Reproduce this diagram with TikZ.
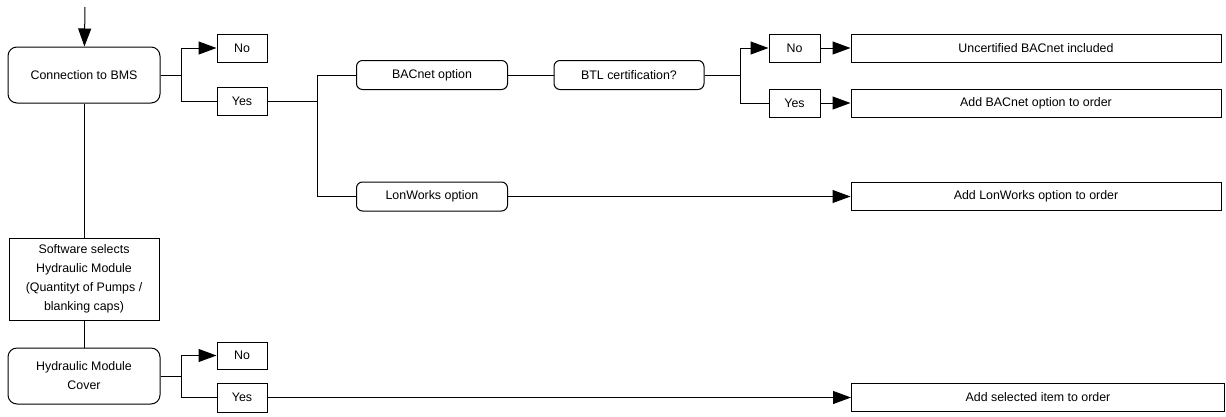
\documentclass[tikz,border=0pt]{standalone}
\usepackage{fontspec}
\setmainfont{Liberation Sans}
\usepackage{tikz}
\usetikzlibrary{arrows.meta,positioning}
\tikzset{
  rbox/.style={draw=black,rounded corners=9pt,line width=1pt,inner sep=0pt,align=center},   % decision
  obox/.style={draw=black,rounded corners=6pt,line width=1pt,inner sep=0pt,minimum width=151pt,minimum height=29pt},
  sbox/.style={draw=black,line width=1pt,inner sep=0pt,align=center},                      % plain step
  ans/.style={sbox,minimum width=50pt,minimum height=28pt},
  res/.style={sbox,minimum width=370pt,minimum height=28pt},
  link/.style={line width=1pt},
  arr/.style={line width=1pt,-{Triangle[length=18pt,width=13pt]}},
}
\begin{document}
\begin{tikzpicture}[x=1pt,y=-1pt,font=\fontsize{12.4}{19}\selectfont]
  \useasboundingbox (0,0) rectangle (1226,416);
  % left column
  \coordinate (start) at (85,7);
  \node[rbox,minimum width=152pt,minimum height=56pt] (bms) at (84,75) {Connection to BMS};
  \node[sbox,minimum width=150pt,minimum height=82pt] (soft) at (84,279)
    {Software selects\\Hydraulic Module\\(Quantityt of Pumps /\\blanking caps)};
  \node[rbox,minimum width=152pt,minimum height=56pt] (cover) at (84,376) {Hydraulic Module\\Cover};
  \draw[arr] (start) -- (bms);
  \draw[link] (bms) -- (soft);
  \draw[link] (soft) -- (cover);
  % BMS answers
  \node[ans] (bmsno) at (242,48) {No};
  \node[ans] (bmsyes) at (242,101) {Yes};
  \coordinate (bmsj) at (181,75);
  \draw[link] (bms) -- (bmsj);
  \draw[arr] (bmsj) |- (bmsno);
  \draw[link] (bmsj) |- (bmsyes);
  % protocol options
  \node[obox] (bacnet) at (432,75) {BACnet option};
  \node[obox,minimum width=150pt] (btl) at (629,75) {BTL certification?};
  \node[obox] (lon) at (432,196.5) {LonWorks option};
  \coordinate (protj) at (317,101);
  \draw[link] (bmsyes) -- (protj);
  \draw[link] (protj) |- (bacnet);
  \draw[link] (protj) |- (lon);
  \draw[link] (bacnet) -- (btl);
  % BTL answers
  \node[ans,minimum width=51pt] (btlno) at (794.5,48) {No};
  \node[ans,minimum width=51pt] (btlyes) at (794.5,103) {Yes};
  \coordinate (btlj) at (740,75);
  \draw[link] (btl) -- (btlj);
  \draw[arr] (btlj) |- (btlno);
  \draw[link] (btlj) |- (btlyes);
  % results
  \node[res] (uncert) at (1036,48) {Uncertified BACnet included};
  \node[res] (addbac) at (1036,103) {Add BACnet option to order};
  \node[res] (addlon) at (1036,196.5) {Add LonWorks option to order};
  \draw[arr] (btlno) -- (uncert);
  \draw[arr] (btlyes) -- (addbac);
  \draw[arr] (lon) -- (addlon);
  % cover answers
  \node[ans,minimum height=27pt] (covno) at (242,355.5) {No};
  \node[ans,minimum height=29pt] (covyes) at (242,397.5) {Yes};
  \node[res,minimum width=373pt] (addsel) at (1038,397.5) {Add selected item to order};
  \coordinate (covj) at (181,376);
  \draw[link] (cover) -- (covj);
  \draw[arr] (covj) |- (covno);
  \draw[link] (covj) |- (covyes);
  \draw[arr] (covyes) -- (addsel);
\end{tikzpicture}
\end{document}
